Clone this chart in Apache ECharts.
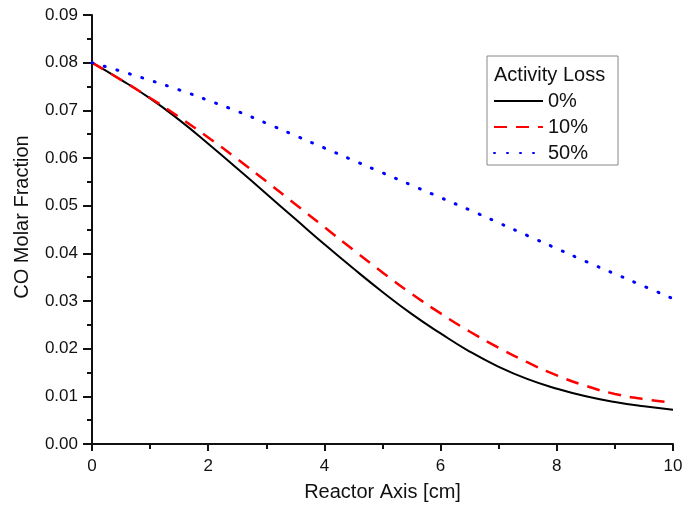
<!DOCTYPE html>
<html>
<head>
<meta charset="utf-8">
<script src="https://cdn.jsdelivr.net/npm/echarts@6/dist/echarts.min.js"></script>
<style>
  html, body { margin: 0; padding: 0; background: #fff; }
  #chart { width: 696px; height: 507px; }
</style>
</head>
<body>
<div id="chart"></div>
<script>
// reactor axis positions [cm]
const axisPos = [0, 0.5, 1, 1.5, 2, 2.5, 3, 3.5, 4, 4.5, 5, 5.5, 6, 6.5, 7, 7.5, 8, 8.5, 9, 9.5, 10]
// CO molar fraction for each activity loss
const loss0 = [0.0800, 0.0764, 0.0725, 0.0680, 0.0630, 0.0578, 0.0525, 0.0472, 0.0419, 0.0368, 0.0319,
  0.0273, 0.0232, 0.0194, 0.0162, 0.0136, 0.0116, 0.0100, 0.0088, 0.0079, 0.0072]
const loss10 = [0.0800, 0.0764, 0.0726, 0.0686, 0.0643, 0.0598, 0.0551, 0.0503, 0.0455, 0.0407, 0.0360,
  0.0315, 0.0274, 0.0236, 0.0202, 0.0171, 0.0144, 0.0122, 0.0105, 0.0094, 0.0087]
const loss50 = [0.0800, 0.0782, 0.0763, 0.0743, 0.0721, 0.0698, 0.0673, 0.0647, 0.0621, 0.0595, 0.0569,
  0.0543, 0.0517, 0.0491, 0.0464, 0.0437, 0.0410, 0.0383, 0.0357, 0.0331, 0.0305]
const seriesNames = ['0%', '10%', '50%']

const font = 'Liberation Sans, Arial, sans-serif'
const pairs = arr => axisPos.map((x, i) => [x, arr[i]])

const chart = echarts.init(document.getElementById('chart'))
chart.setOption({
  animation: false,
  backgroundColor: '#fff',
  textStyle: { fontFamily: font },
  grid: { left: 92, right: 23, top: 15, bottom: 63 },
  title: {
    text: 'Activity Loss',
    left: 489,
    top: 60,
    textStyle: { fontSize: 20, fontWeight: 'normal', color: '#111', fontFamily: font }
  },
  legend: {
    data: seriesNames,
    orient: 'vertical',
    left: 487,
    top: 56,
    padding: [35, 30, 2, 6],
    itemWidth: 49,
    itemHeight: 14,
    itemGap: 6,
    borderColor: '#888',
    borderWidth: 1,
    itemStyle: { opacity: 0 },
    textStyle: { fontSize: 20, color: '#111', fontFamily: font }
  },
  xAxis: {
    type: 'value',
    min: 0,
    max: 10,
    interval: 2,
    name: 'Reactor Axis [cm]',
    nameLocation: 'middle',
    nameGap: 38,
    nameTextStyle: { fontSize: 20, color: '#111' },
    axisLine: { lineStyle: { color: '#111', width: 2 } },
    axisTick: { length: 7, lineStyle: { color: '#111', width: 2 } },
    minorTick: { show: true, splitNumber: 2, length: 5, lineStyle: { color: '#111', width: 2 } },
    axisLabel: { fontSize: 17, color: '#111', margin: 14 },
    splitLine: { show: false }
  },
  yAxis: {
    type: 'value',
    min: 0,
    max: 0.09,
    interval: 0.01,
    name: 'CO Molar Fraction',
    nameLocation: 'middle',
    nameGap: 60,
    nameTextStyle: { fontSize: 20, color: '#111', padding: [0, 0, 0, 25] },
    axisLine: { show: true, lineStyle: { color: '#111', width: 2 } },
    axisTick: { show: true, length: 9, lineStyle: { color: '#111', width: 2 } },
    minorTick: { show: true, splitNumber: 2, length: 5, lineStyle: { color: '#111', width: 2 } },
    axisLabel: { fontSize: 17, color: '#111', margin: 14, formatter: v => v.toFixed(2) },
    splitLine: { show: false }
  },
  series: [
    {
      name: seriesNames[0],
      type: 'line',
      data: pairs(loss0),
      smooth: true,
      symbol: 'none',
      color: '#000',
      lineStyle: { color: '#000', width: 2 }
    },
    {
      name: seriesNames[1],
      type: 'line',
      data: pairs(loss10),
      smooth: true,
      symbol: 'none',
      color: '#f00',
      lineStyle: { color: '#f00', width: 2.5, type: [13, 9] }
    },
    {
      name: seriesNames[2],
      type: 'line',
      data: pairs(loss50),
      smooth: true,
      symbol: 'none',
      color: '#00f',
      lineStyle: { color: '#00f', width: 3, type: [1, 12], cap: 'round' }
    }
  ]
})
</script>
</body>
</html>
